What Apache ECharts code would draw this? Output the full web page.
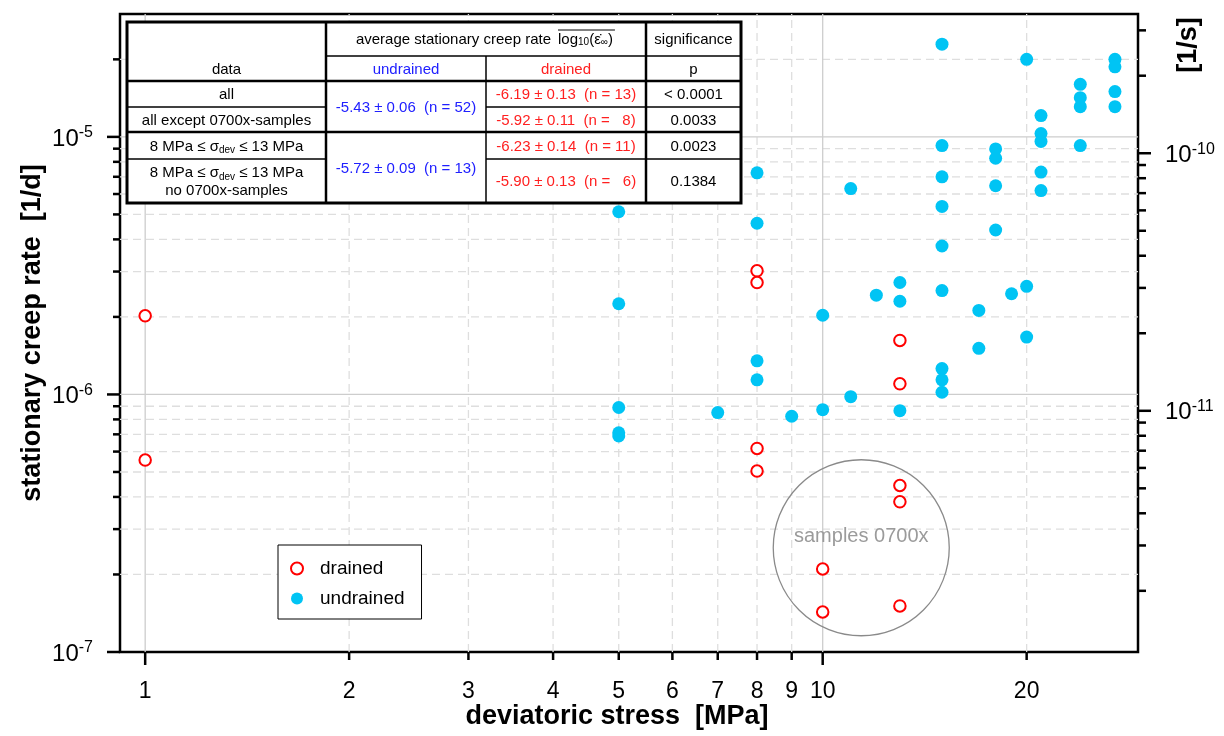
<!DOCTYPE html>
<html><head><meta charset="utf-8">
<script src="https://cdn.jsdelivr.net/npm/echarts@6/dist/echarts.min.js"></script>
<style>html,body{margin:0;padding:0;background:#fff}#c{width:1224px;height:736px}</style>
</head><body><div id="c"></div>
<script>
// ---------------- data ----------------
const drainedStress = [1, 1, 8, 8, 8, 8, 10, 10, 13, 13, 13, 13, 13];
const drainedRate   = [2.02e-6, 5.56e-7, 3.02e-6, 2.72e-6, 6.17e-7, 5.04e-7, 2.1e-7, 1.43e-7, 1.62e-6, 1.10e-6, 4.43e-7, 3.83e-7, 1.51e-7];

const undrainedStress = [5, 5, 5, 5, 5, 7, 8, 8, 8, 8, 9, 10, 10, 11, 11, 12, 13, 13, 13,
  15, 15, 15, 15, 15, 15, 15, 15, 15, 17, 17, 18, 18, 18, 18, 19, 20, 20, 20,
  21, 21, 21, 21, 21, 24, 24, 24, 24, 27, 27, 27, 27];
const undrainedRate = [5.12e-6, 2.25e-6, 8.9e-7, 7.1e-7, 6.9e-7, 8.5e-7, 7.25e-6, 4.62e-6, 1.35e-6, 1.14e-6, 8.23e-7, 2.03e-6, 8.73e-7, 6.3e-6, 9.8e-7, 2.43e-6, 2.72e-6, 2.30e-6, 8.65e-7,
  2.29e-5, 9.25e-6, 7.0e-6, 5.37e-6, 3.77e-6, 2.53e-6, 1.26e-6, 1.14e-6, 1.02e-6, 2.12e-6, 1.51e-6, 8.98e-6, 8.26e-6, 6.46e-6, 4.35e-6, 2.46e-6, 2.0e-5, 2.63e-6, 1.67e-6,
  1.21e-5, 1.03e-5, 9.6e-6, 7.3e-6, 6.19e-6, 1.6e-5, 1.42e-5, 1.31e-5, 9.25e-6, 2.0e-5, 1.87e-5, 1.50e-5, 1.31e-5];

const xTickValues = [1, 2, 3, 4, 5, 6, 7, 8, 9, 10, 20];
const xTickLabels = ['1', '2', '3', '4', '5', '6', '7', '8', '9', '10', '20'];
const xMajorTicks = [1, 10];
const xGridSolid = [1, 10];
const xGridDashed = [2, 3, 4, 5, 6, 7, 8, 9, 20];

const yTickValues = [1e-7, 2e-7, 3e-7, 4e-7, 5e-7, 6e-7, 7e-7, 8e-7, 9e-7,
  1e-6, 2e-6, 3e-6, 4e-6, 5e-6, 6e-6, 7e-6, 8e-6, 9e-6, 1e-5, 2e-5];
const yMajorTicks = [1e-7, 1e-6, 1e-5];
const yMajorExponents = ['-7', '-6', '-5'];
const yGridSolid = [1e-6, 1e-5];
const yGridDashed = [2e-7, 3e-7, 4e-7, 5e-7, 6e-7, 7e-7, 8e-7, 9e-7,
  2e-6, 3e-6, 4e-6, 5e-6, 6e-6, 7e-6, 8e-6, 9e-6, 2e-5];

const y2TickValues = [2e-12, 3e-12, 4e-12, 5e-12, 6e-12, 7e-12, 8e-12, 9e-12,
  1e-11, 2e-11, 3e-11, 4e-11, 5e-11, 6e-11, 7e-11, 8e-11, 9e-11, 1e-10, 2e-10, 3e-10];
const y2MajorTicks = [1e-11, 1e-10];
const y2MajorExponents = ['-11', '-10'];

const SECONDS_PER_DAY = 86400;
const X_MIN = 0.918, X_MAX = 29.2;
const Y_MIN = 1e-7, Y_MAX = 3e-5;

const annotationCenter = [11.4, 2.54e-7];
const annotationText = 'samples 0700x';

// table content
const tableHeader = ['average stationary creep rate', 'significance', 'data', 'undrained', 'drained', 'p'];
const tableDataCol = ['all', 'all except 0700x-samples', '8 MPa ≤ σ{sub|dev} ≤ 13 MPa', '8 MPa ≤ σ{sub|dev} ≤ 13 MPa\nno 0700x-samples'];
const tableUndrained = ['-5.43 ± 0.06  (n = 52)', '-5.72 ± 0.09  (n = 13)'];
const tableDrained = ['-6.19 ± 0.13  (n = 13)', '-5.92 ± 0.11  (n =   8)', '-6.23 ± 0.14  (n = 11)', '-5.90 ± 0.13  (n =   6)'];
const tableP = ['< 0.0001', '0.0033', '0.0023', '0.1384'];

// ---------------- styling ----------------
const FONT = '"Liberation Sans", Arial, sans-serif';
const BLUE_PT = '#00c4f4';
const RED = '#ff0000';
const TXT_BLUE = '#2020ff';
const TXT_RED = '#ff2020';

const chart = echarts.init(document.getElementById('c'), null, {renderer: 'canvas'});

function txt(x, y, text, opts) {
  opts = opts || {};
  const align = opts.align || 'center';
  return {
    type: 'text', x: x, y: y, z: 101, rotation: opts.rotation || 0,
    style: Object.assign({
      text: text, font: opts.font || ('15px ' + FONT), fill: opts.fill || '#000',
      align: align, textAlign: align, verticalAlign: 'middle', textVerticalAlign: 'middle',
      rich: opts.rich
    }, opts.extra || {})
  };
}
function ln(x1, y1, x2, y2, w) {
  return {type: 'line', z: 101, shape: {x1: x1, y1: y1, x2: x2, y2: y2}, style: {stroke: '#000', lineWidth: w}};
}

// table geometry
const T = {x0: 127, x1: 326, x2: 486, x3: 646, x4: 741, y0: 22, y1: 56, y2: 81, y3: 107, y4: 132, y5: 159, y6: 203};
const subRich = {
  sub: {font: '10px ' + FONT, verticalAlign: 'bottom', lineHeight: 10, fill: '#000'}
};
const measureCtx = document.createElement('canvas').getContext('2d');
function mw(s, f) { measureCtx.font = f; return measureCtx.measureText(s).width; }

const tableEls = [];
tableEls.push({type: 'rect', z: 100, shape: {x: T.x0, y: T.y0, width: T.x4 - T.x0, height: T.y6 - T.y0}, style: {fill: '#fff', stroke: '#000', lineWidth: 3}});
tableEls.push(ln(T.x1, T.y0, T.x1, T.y6, 2.5));
tableEls.push(ln(T.x3, T.y0, T.x3, T.y6, 2.5));
tableEls.push(ln(T.x2, T.y1, T.x2, T.y6, 1.5));
tableEls.push(ln(T.x1, T.y1, T.x4, T.y1, 1.5));
tableEls.push(ln(T.x0, T.y2, T.x4, T.y2, 2.5));
tableEls.push(ln(T.x0, T.y4, T.x4, T.y4, 2.5));
tableEls.push(ln(T.x0, T.y3, T.x1, T.y3, 1.5));
tableEls.push(ln(T.x2, T.y3, T.x4, T.y3, 1.5));
tableEls.push(ln(T.x0, T.y5, T.x1, T.y5, 1.5));
tableEls.push(ln(T.x2, T.y5, T.x4, T.y5, 1.5));

// header 1
const hy = (T.y0 + T.y1) / 2 + 1;
tableEls.push(txt(551, hy, tableHeader[0], {align: 'right'}));
const f15 = '15px ' + FONT, f10 = '10px ' + FONT;
const logX = 558;
const logW = mw('log', f15) + mw('10', f10) + mw('(ε', f15) + mw('∞', f10) + mw(')', f15) + 2;
tableEls.push(txt(logX, hy, 'log{sub|10}(ε\u0307{sub|∞})', {align: 'left', rich: {sub: {font: f10, verticalAlign: 'bottom', lineHeight: 10}}}));
tableEls.push(ln(logX, T.y0 + 8, logX + logW, T.y0 + 8, 1));
tableEls.push(txt((T.x3 + T.x4) / 2, hy, tableHeader[1]));
// header 2
const h2 = (T.y1 + T.y2) / 2 + 1;
tableEls.push(txt((T.x0 + T.x1) / 2, h2, tableHeader[2]));
tableEls.push(txt((T.x1 + T.x2) / 2, h2, tableHeader[3], {fill: TXT_BLUE}));
tableEls.push(txt((T.x2 + T.x3) / 2, h2, tableHeader[4], {fill: TXT_RED}));
tableEls.push(txt((T.x3 + T.x4) / 2, h2, tableHeader[5]));
// rows
const rowMid = [(T.y2 + T.y3) / 2, (T.y3 + T.y4) / 2, (T.y4 + T.y5) / 2, (T.y5 + T.y6) / 2];
for (let i = 0; i < 4; i++) {
  tableEls.push(txt((T.x0 + T.x1) / 2, rowMid[i] + 1, tableDataCol[i], {rich: subRich, extra: {lineHeight: 18}}));
  tableEls.push(txt((T.x2 + T.x3) / 2, rowMid[i] + 1, tableDrained[i], {fill: TXT_RED}));
  tableEls.push(txt((T.x3 + T.x4) / 2, rowMid[i] + 1, tableP[i]));
}
tableEls.push(txt((T.x1 + T.x2) / 2, (T.y2 + T.y4) / 2 + 1, tableUndrained[0], {fill: TXT_BLUE}));
tableEls.push(txt((T.x1 + T.x2) / 2, (T.y4 + T.y6) / 2 + 1, tableUndrained[1], {fill: TXT_BLUE}));

// axis titles
const titleFont = 'bold 27px ' + FONT;
tableEls.push(txt(617, 717, 'deviatoric stress  [MPa]', {font: titleFont}));
tableEls.push(txt(33, 333, 'stationary creep rate  [1/d]', {font: titleFont, rotation: Math.PI / 2}));
tableEls.push(txt(1189, 45, '[1/s]', {font: titleFont, rotation: Math.PI / 2}));

// ---------------- helpers for ticks / grid via custom series ----------------
function gridSeries(values, isX, dashed) {
  return {
    type: 'custom', silent: true, z: 1, xAxisIndex: 0, yAxisIndex: 0,
    data: values.map(v => isX ? [v, Y_MIN] : [X_MIN, v]),
    renderItem: function (params, api) {
      const a = isX ? api.coord([api.value(0), Y_MIN]) : api.coord([X_MIN, api.value(1)]);
      const b = isX ? api.coord([api.value(0), Y_MAX]) : api.coord([X_MAX, api.value(1)]);
      return {type: 'line', shape: {x1: a[0], y1: a[1], x2: b[0], y2: b[1]},
        style: {stroke: dashed ? '#dedede' : '#cdcdcd', lineWidth: 1.3, lineDash: dashed ? [8, 5] : null}};
    }
  };
}
const supRich = {
  b: {font: '24px ' + FONT, lineHeight: 26, verticalAlign: 'bottom', fill: '#000'},
  s: {font: '16px ' + FONT, lineHeight: 14, verticalAlign: 'top', fill: '#000'}
};

const series = [
  gridSeries(xGridDashed, true, true),
  gridSeries(yGridDashed, false, true),
  gridSeries(xGridSolid, true, false),
  gridSeries(yGridSolid, false, false),
  {
    name: 'undrained', type: 'scatter', z: 3, symbol: 'circle', symbolSize: 13,
    itemStyle: {color: BLUE_PT, opacity: 1},
    data: undrainedStress.map((x, i) => [x, undrainedRate[i]])
  },
  {
    name: 'drained', type: 'scatter', z: 4, symbol: 'emptyCircle', symbolSize: 11.5,
    itemStyle: {color: RED, borderColor: RED, borderWidth: 1.6, opacity: 1},
    data: drainedStress.map((x, i) => [x, drainedRate[i]])
  },
  { // x ticks + labels
    type: 'custom', silent: true, z: 5, xAxisIndex: 0, yAxisIndex: 0,
    data: xTickValues.map(v => [v, Y_MIN]),
    renderItem: function (params, api) {
      const v = api.value(0);
      const p = api.coord([v, Y_MIN]);
      const len = xMajorTicks.indexOf(v) >= 0 ? 13 : 8;
      return {type: 'group', children: [
        {type: 'line', shape: {x1: p[0], y1: p[1], x2: p[0], y2: p[1] + len}, style: {stroke: '#000', lineWidth: 2.5}},
        {type: 'text', style: {text: xTickLabels[params.dataIndex], x: p[0], y: p[1] + 40, font: '23px ' + FONT, fill: '#000',
          align: 'center', textAlign: 'center', verticalAlign: 'middle', textVerticalAlign: 'middle'}}
      ]};
    }
  },
  { // left y ticks + labels
    type: 'custom', silent: true, z: 5, xAxisIndex: 0, yAxisIndex: 0,
    data: yTickValues.map(v => [X_MIN, v]),
    renderItem: function (params, api) {
      const v = api.value(1);
      const p = api.coord([X_MIN, v]);
      const mi = yMajorTicks.findIndex(m => Math.abs(m - v) / m < 1e-6);
      const len = mi >= 0 ? 13 : 7;
      const ch = [{type: 'line', shape: {x1: p[0], y1: p[1], x2: p[0] - len, y2: p[1]}, style: {stroke: '#000', lineWidth: 2.5}}];
      if (mi >= 0) ch.push({type: 'text', style: {text: '{b|10}{s|' + yMajorExponents[mi] + '}', rich: supRich, x: p[0] - 27, y: p[1] + 1,
        align: 'right', textAlign: 'right', verticalAlign: 'middle', textVerticalAlign: 'middle'}});
      return {type: 'group', children: ch};
    }
  },
  { // right y ticks + labels (1/s)
    type: 'custom', silent: true, z: 5, xAxisIndex: 0, yAxisIndex: 1,
    data: y2TickValues.map(v => [X_MAX, v]),
    renderItem: function (params, api) {
      const v = api.value(1);
      const p = api.coord([X_MAX, v]);
      const mi = y2MajorTicks.findIndex(m => Math.abs(m - v) / m < 1e-6);
      const len = mi >= 0 ? 13 : 8;
      const ch = [{type: 'line', shape: {x1: p[0], y1: p[1], x2: p[0] + len, y2: p[1]}, style: {stroke: '#000', lineWidth: 2.5}}];
      if (mi >= 0) ch.push({type: 'text', style: {text: '{b|10}{s|' + y2MajorExponents[mi] + '}', rich: supRich, x: p[0] + 27, y: p[1] + 1,
        align: 'left', textAlign: 'left', verticalAlign: 'middle', textVerticalAlign: 'middle'}});
      return {type: 'group', children: ch};
    }
  },
  { // annotation circle
    type: 'custom', silent: true, z: 2, xAxisIndex: 0, yAxisIndex: 0,
    data: [annotationCenter],
    renderItem: function (params, api) {
      const p = api.coord([api.value(0), api.value(1)]);
      return {type: 'group', children: [
        {type: 'circle', shape: {cx: p[0], cy: p[1], r: 88}, style: {fill: null, stroke: '#8a8a8a', lineWidth: 1.3}},
        {type: 'text', style: {text: annotationText, x: p[0], y: p[1] - 11, font: '20px ' + FONT, fill: '#9b9b9b',
          align: 'center', textAlign: 'center', verticalAlign: 'middle', textVerticalAlign: 'middle'}}
      ]};
    }
  }
];

chart.setOption({
  animation: false,
  backgroundColor: '#fff',
  grid: {left: 120, right: 86, top: 14, bottom: 84, show: true, borderColor: '#000', borderWidth: 2.5, backgroundColor: 'transparent'},
  xAxis: [{type: 'log', logBase: 10, min: X_MIN, max: X_MAX, axisLine: {show: false}, axisTick: {show: false}, axisLabel: {show: false}, splitLine: {show: false}, minorTick: {show: false}}],
  yAxis: [
    {type: 'log', logBase: 10, min: Y_MIN, max: Y_MAX, axisLine: {show: false}, axisTick: {show: false}, axisLabel: {show: false}, splitLine: {show: false}},
    {type: 'log', logBase: 10, position: 'right', min: Y_MIN / SECONDS_PER_DAY, max: Y_MAX / SECONDS_PER_DAY, axisLine: {show: false}, axisTick: {show: false}, axisLabel: {show: false}, splitLine: {show: false}}
  ],
  legend: {
    left: 278, top: 545, orient: 'vertical', backgroundColor: '#fff',
    borderColor: '#000', borderWidth: 1, borderRadius: 0, padding: [14, 17, 11, 12],
    itemWidth: 12, itemHeight: 12, itemGap: 11,
    textStyle: {fontFamily: FONT, fontSize: 19, color: '#000', padding: [0, 0, 0, 12]},
    data: [{name: 'drained', icon: 'emptyCircle'}, {name: 'undrained', icon: 'circle'}]
  },
  graphic: {elements: tableEls},
  series: series
});
</script></body></html>
